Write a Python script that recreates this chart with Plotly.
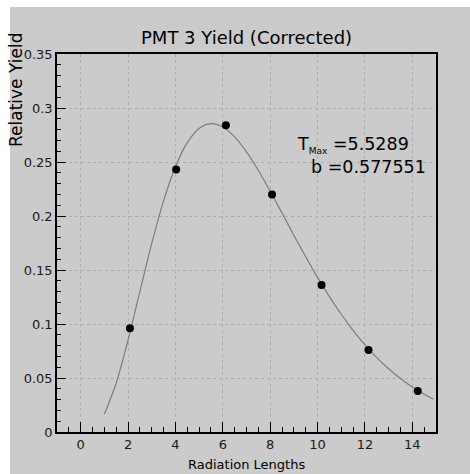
import plotly.graph_objects as go

# Measured data points
x_points = [2.08, 4.03, 6.13, 8.08, 10.17, 12.15, 14.23]
y_points = [0.096, 0.243, 0.284, 0.220, 0.136, 0.076, 0.038]

# Fit curve
x_curve = [1.0, 1.5, 2.0, 2.5, 3.0, 3.5, 4.0, 4.5, 5.0, 5.5, 6.0, 6.5, 7.0, 7.5,
           8.0, 8.5, 9.0, 9.5, 10.0, 10.5, 11.0, 11.5, 12.0, 12.5, 13.0, 13.5,
           14.0, 14.5, 14.9]
y_curve = [0.0166, 0.0454, 0.0852, 0.1302, 0.1746, 0.2140, 0.2456, 0.2680,
           0.2811, 0.2855, 0.2824, 0.2732, 0.2593, 0.2421, 0.2229, 0.2027,
           0.1822, 0.1623, 0.1432, 0.1254, 0.1090, 0.0941, 0.0807, 0.0689,
           0.0585, 0.0495, 0.0416, 0.0349, 0.0303]

title_text = "PMT 3 Yield (Corrected)"
x_title = "Radiation Lengths"
y_title = "Relative Yield"
stat1 = "T<sub><span style='font-size:9px'>Max</span></sub> =5.5289"
stat2 = "b =0.577551"

GRAY = "#cbcbcb"
FONT = "DejaVu Sans, sans-serif"

fig = go.Figure()
fig.add_trace(go.Scatter(x=x_curve, y=y_curve, mode="lines", line_shape="spline",
                         line=dict(color="#7d7d7d", width=1.2), hoverinfo="skip"))
fig.add_trace(go.Scatter(x=x_points, y=y_points, mode="markers",
                         marker=dict(color="black", size=8)))

L, R, T, B = 57, 34, 54, 42
W, H = 470, 474
pw, ph = W - L - R, H - T - B

def px(xp):
    return (xp - L) / pw

def py(yp):
    return (H - B - yp) / ph

fig.add_shape(type="rect", xref="paper", yref="paper",
              x0=px(10), x1=px(W + 5), y0=py(H + 5), y1=py(7),
              fillcolor=GRAY, line=dict(width=0), layer="below")

fig.update_layout(
    width=W, height=H,
    margin=dict(l=L, r=R, t=T, b=B),
    paper_bgcolor="white", plot_bgcolor=GRAY,
    showlegend=False,
    font=dict(family=FONT, color="black", size=13),
)
axis_common = dict(ticks="inside", tickcolor="black", showline=True, linecolor="black",
                   linewidth=1.5, mirror=True, showgrid=True, gridcolor="#adadad",
                   griddash="dot", gridwidth=1, zeroline=False,
                   tickfont=dict(size=13, color="#1a1a1a", family=FONT))
fig.update_xaxes(range=[-1, 15], tick0=0, dtick=2, ticklen=10,
                 minor=dict(dtick=0.5, ticks="inside", ticklen=5, tickcolor="black",
                            showgrid=False), **axis_common)
fig.update_yaxes(range=[0, 0.35], tick0=0, dtick=0.05, ticklen=9,
                 minor=dict(dtick=0.01, ticks="inside", ticklen=4, tickcolor="black",
                            showgrid=False), **axis_common)

fig.add_annotation(text=title_text, xref="paper", yref="paper", x=px(246), y=py(37),
                   xanchor="center", yanchor="middle", showarrow=False,
                   font=dict(size=18, family=FONT))
fig.add_annotation(text=x_title, xref="paper", yref="paper", x=px(246), y=py(465),
                   xanchor="center", yanchor="middle", showarrow=False,
                   font=dict(size=13, family=FONT))
fig.add_annotation(text=y_title, xref="paper", yref="paper", x=px(16), y=py(90),
                   xanchor="center", yanchor="middle", showarrow=False, textangle=-90,
                   font=dict(size=17, family=FONT))
fig.add_annotation(text=stat1, xref="paper", yref="paper", x=px(295), y=py(145),
                   xanchor="left", yanchor="middle", showarrow=False,
                   font=dict(size=17.5, family=FONT))
fig.add_annotation(text=stat2, xref="paper", yref="paper", x=px(309), y=py(167),
                   xanchor="left", yanchor="middle", showarrow=False,
                   font=dict(size=17.5, family=FONT))

fig.write_html("out.html")
